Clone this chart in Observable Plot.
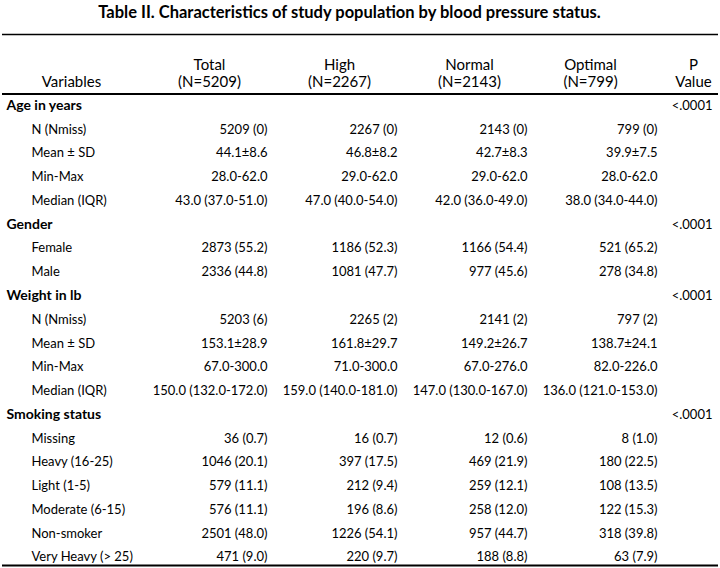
<!DOCTYPE html>
<html>
<head>
<meta charset="utf-8">
<script src="https://cdn.jsdelivr.net/npm/d3@7"></script>
<script src="https://cdn.jsdelivr.net/npm/@observablehq/plot@0.6"></script>
<style>
  html, body { margin: 0; padding: 0; background: #fff; }
  #title { font: bold 16.5px Lato, sans-serif; color: #000; width: 699px; height: 24px; line-height: 25px; text-align: center; white-space: nowrap; }
  #chart svg { display: block; }
</style>
</head>
<body>
<div id="title">Table II. Characteristics of study population by blood pressure status.</div>
<div id="chart"></div>
<script>
// ---- data ----
const columns = ["Total", "High", "Normal", "Optimal"];
const columnN = [5209, 2267, 2143, 799];

const groups = ["Age in years", "Gender", "Weight in lb", "Smoking status"];
const groupP = ["<.0001", "<.0001", "<.0001", "<.0001"];

const ageLabels = ["N (Nmiss)", "Mean ± SD", "Min-Max", "Median (IQR)"];
const ageValues = [
  ["5209 (0)", "2267 (0)", "2143 (0)", "799 (0)"],
  ["44.1±8.6", "46.8±8.2", "42.7±8.3", "39.9±7.5"],
  ["28.0-62.0", "29.0-62.0", "29.0-62.0", "28.0-62.0"],
  ["43.0 (37.0-51.0)", "47.0 (40.0-54.0)", "42.0 (36.0-49.0)", "38.0 (34.0-44.0)"]
];

const genderLabels = ["Female", "Male"];
const genderValues = [
  ["2873 (55.2)", "1186 (52.3)", "1166 (54.4)", "521 (65.2)"],
  ["2336 (44.8)", "1081 (47.7)", "977 (45.6)", "278 (34.8)"]
];

const weightLabels = ["N (Nmiss)", "Mean ± SD", "Min-Max", "Median (IQR)"];
const weightValues = [
  ["5203 (6)", "2265 (2)", "2141 (2)", "797 (2)"],
  ["153.1±28.9", "161.8±29.7", "149.2±26.7", "138.7±24.1"],
  ["67.0-300.0", "71.0-300.0", "67.0-276.0", "82.0-226.0"],
  ["150.0 (132.0-172.0)", "159.0 (140.0-181.0)", "147.0 (130.0-167.0)", "136.0 (121.0-153.0)"]
];

const smokingLabels = ["Missing", "Heavy (16-25)", "Light (1-5)", "Moderate (6-15)", "Non-smoker", "Very Heavy (> 25)"];
const smokingValues = [
  ["36 (0.7)", "16 (0.7)", "12 (0.6)", "8 (1.0)"],
  ["1046 (20.1)", "397 (17.5)", "469 (21.9)", "180 (22.5)"],
  ["579 (11.1)", "212 (9.4)", "259 (12.1)", "108 (13.5)"],
  ["576 (11.1)", "196 (8.6)", "258 (12.0)", "122 (15.3)"],
  ["2501 (48.0)", "1226 (54.1)", "957 (44.7)", "318 (39.8)"],
  ["471 (9.0)", "220 (9.7)", "188 (8.8)", "63 (7.9)"]
];

// ---- build table rows ----
const sections = [
  [ageLabels, ageValues],
  [genderLabels, genderValues],
  [weightLabels, weightValues],
  [smokingLabels, smokingValues]
];
const groupRows = [];
const subRows = [];
const cells = [];
let r = 0;
sections.forEach(([labels, values], g) => {
  groupRows.push({row: r, label: groups[g], p: groupP[g]});
  r++;
  labels.forEach((lab, i) => {
    subRows.push({row: r, label: lab});
    values[i].forEach((v, c) => cells.push({row: r, col: columns[c], value: v}));
    r++;
  });
});
const nRows = r;
const headerY = -0.8;
const topRule = -3;
const headRule = -0.5;
const bottomRule = nRows - 0.65;

const headers = columns.map((c, i) => ({col: c, text: `${c}\n(N=${columnN[i]})`}));
const headStyle = {textAnchor: "middle", lineAnchor: "bottom", lineHeight: 1.12, fontSize: 15, fill: "#000"};

const chart = Plot.plot({
  width: 720,
  height: 544,
  margin: 0,
  x: {type: "point", domain: columns, range: [266, 658], padding: 0, align: 0.5, axis: null},
  y: {domain: [topRule, bottomRule], range: [10, 541], axis: null},
  style: {fontFamily: "Lato, sans-serif", fontSize: "13px", color: "#000", background: "#fff"},
  marks: [
    Plot.ruleY([topRule], {stroke: "#000", strokeWidth: 1.5, insetLeft: 2, insetRight: 2}),
    Plot.ruleY([headRule], {stroke: "#000", strokeWidth: 2, insetLeft: 2, insetRight: 2}),
    Plot.ruleY([bottomRule], {stroke: "#000", strokeWidth: 2, insetLeft: 2, insetRight: 2}),
    Plot.text(headers.slice(0, 3), {x: "col", y: () => headerY, text: "text", dx: -58, ...headStyle}),
    Plot.text(headers.slice(3), {x: "col", y: () => headerY, text: "text", dx: -67, ...headStyle}),
    Plot.text(["Variables"], {frameAnchor: "left", dx: 71, y: () => headerY, ...headStyle}),
    Plot.text(["P\nValue"], {frameAnchor: "right", dx: -27, y: () => headerY, ...headStyle}),
    Plot.text(groupRows, {frameAnchor: "left", dx: 6, y: "row", text: "label", textAnchor: "start", fontWeight: "bold", fontSize: 14, fill: "#000"}),
    Plot.text(subRows, {frameAnchor: "left", dx: 31, y: "row", text: "label", textAnchor: "start", fill: "#000"}),
    Plot.text(cells, {x: "col", y: "row", text: "value", textAnchor: "end", fill: "#000"}),
    Plot.text(groupRows, {frameAnchor: "right", dx: -8, y: "row", text: "p", textAnchor: "end", fill: "#000"})
  ]
});
document.getElementById("chart").appendChild(chart);
</script>
</body>
</html>
